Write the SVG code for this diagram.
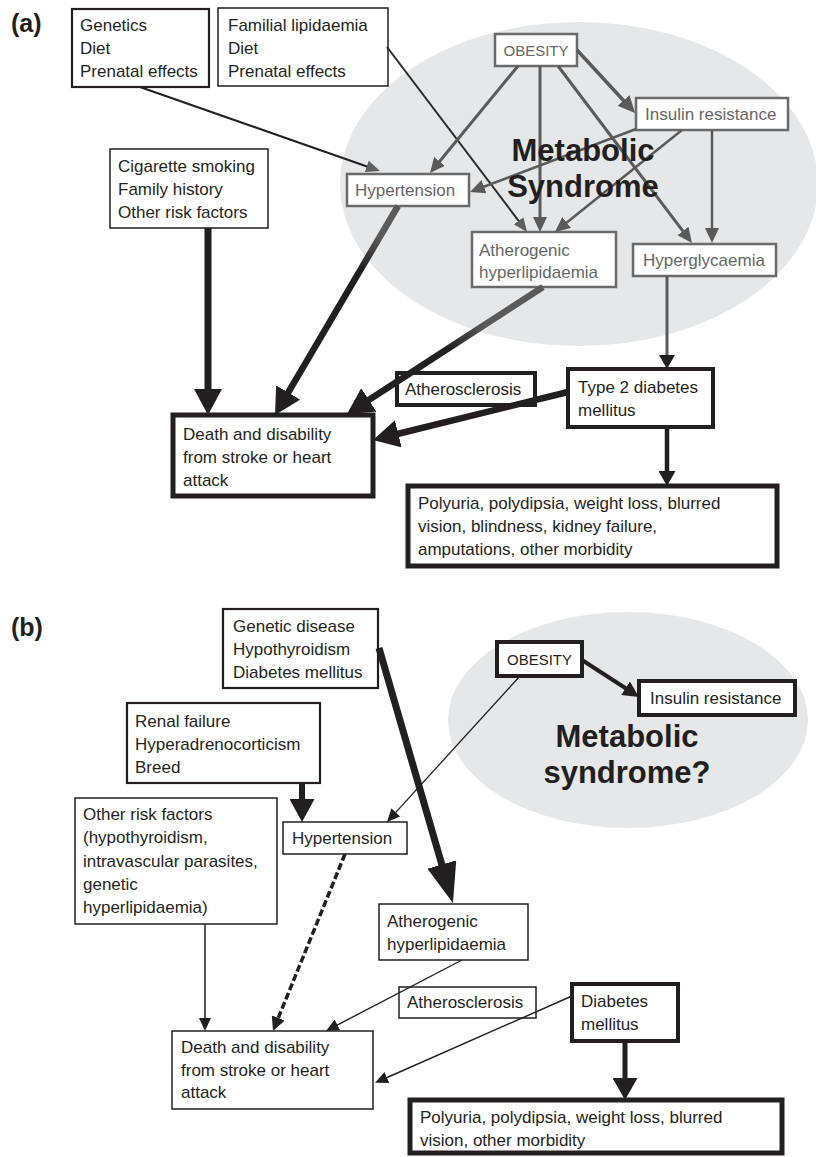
<svg xmlns="http://www.w3.org/2000/svg" width="816" height="1157" viewBox="0 0 816 1157">
<style>
  text { font-family: "Liberation Sans", Arial, sans-serif; font-size: 17px; fill: #231f20; }
  .g text, text.g { fill: #666666; }
  .lbl { font-weight: bold; font-size: 25px; }
  .big { font-weight: bold; font-size: 31px; text-anchor: middle; }
  rect { fill: #ffffff; stroke: #231f20; }
  .gb { stroke: #6a6a6a; stroke-width: 2.5; }
  .k1 { stroke-width: 1.5; }
  .k2 { stroke-width: 2.2; }
  .k4 { stroke-width: 4; }
  .k5 { stroke-width: 5; }
  .ell { fill: #e6e7e8; stroke: none; }
  line { fill: none; stroke-linecap: butt; }
</style>
<defs>
  <marker id="mBig" markerUnits="userSpaceOnUse" markerWidth="26" markerHeight="28" refX="1" refY="14" orient="auto"><path d="M0,0 L26,14 L0,28 Z" fill="#231f20"/></marker>
  <marker id="mBigB" markerUnits="userSpaceOnUse" markerWidth="40" markerHeight="30" refX="1" refY="15" orient="auto"><path d="M0,0 L40,15 L0,30 Z" fill="#231f20"/></marker>
  <marker id="mMid" markerUnits="userSpaceOnUse" markerWidth="23" markerHeight="25" refX="1" refY="12.5" orient="auto"><path d="M0,0 L23,12.5 L0,25 Z" fill="#231f20"/></marker>
  <marker id="mMid2" markerUnits="userSpaceOnUse" markerWidth="22" markerHeight="25" refX="1" refY="12.5" orient="auto"><path d="M0,0 L22,12.5 L0,25 Z" fill="#231f20"/></marker>
  <marker id="mGray" markerUnits="userSpaceOnUse" markerWidth="15" markerHeight="14" refX="1" refY="7" orient="auto"><path d="M0,0 L15,7 L0,14 Z" fill="#5a5a5a"/></marker>
  <marker id="mGray2" markerUnits="userSpaceOnUse" markerWidth="17" markerHeight="16" refX="1" refY="8" orient="auto"><path d="M0,0 L17,8 L0,16 Z" fill="#5a5a5a"/></marker>
  <marker id="mGrayS" markerUnits="userSpaceOnUse" markerWidth="14" markerHeight="12" refX="1" refY="6" orient="auto"><path d="M0,0 L14,6 L0,12 Z" fill="#5f5f5f"/></marker>
  <marker id="mMedK" markerUnits="userSpaceOnUse" markerWidth="14" markerHeight="16" refX="1" refY="8" orient="auto"><path d="M0,0 L14,8 L0,16 Z" fill="#231f20"/></marker>
  <marker id="mMedK2" markerUnits="userSpaceOnUse" markerWidth="15" markerHeight="17" refX="1" refY="8.5" orient="auto"><path d="M0,0 L15,8.5 L0,17 Z" fill="#231f20"/></marker>
  <marker id="mOb" markerUnits="userSpaceOnUse" markerWidth="16" markerHeight="16" refX="1" refY="8" orient="auto"><path d="M0,0 L16,8 L0,16 Z" fill="#231f20"/></marker>
  <marker id="mS" markerUnits="userSpaceOnUse" markerWidth="13" markerHeight="12" refX="1" refY="6" orient="auto"><path d="M0,0 L13,6 L0,12 Z" fill="#231f20"/></marker>
  <marker id="mD" markerUnits="userSpaceOnUse" markerWidth="14" markerHeight="14" refX="1" refY="7" orient="auto"><path d="M0,0 L14,7 L0,14 Z" fill="#231f20"/></marker>
  <linearGradient id="g1" gradientUnits="userSpaceOnUse" x1="398" y1="206" x2="275" y2="415">
    <stop offset="0" stop-color="#5a5a5a"/><stop offset="0.15" stop-color="#5a5a5a"/><stop offset="0.3" stop-color="#231f20"/><stop offset="1" stop-color="#231f20"/>
  </linearGradient>
  <linearGradient id="g2" gradientUnits="userSpaceOnUse" x1="543" y1="287" x2="347" y2="414">
    <stop offset="0" stop-color="#5a5a5a"/><stop offset="0.3" stop-color="#5a5a5a"/><stop offset="0.48" stop-color="#231f20"/><stop offset="1" stop-color="#231f20"/>
  </linearGradient>
</defs>
<rect x="0" y="0" width="816" height="1157" style="fill:#ffffff;stroke:none"/>

<!-- Panel labels and backgrounds -->
<text class="lbl" x="11" y="32">(a)</text>
<text class="lbl" x="11" y="636">(b)</text>
<ellipse class="ell" cx="579" cy="184" rx="239" ry="162"/>
<ellipse class="ell" cx="628" cy="720" rx="180" ry="108"/>

<!-- Panel (a) nodes -->
<g id="a-genetics"><rect class="k2" x="72" y="9" width="137" height="78"/>
  <text x="80" y="31">Genetics</text><text x="80" y="54">Diet</text><text x="80" y="77">Prenatal effects</text></g>
<g id="a-familial"><rect class="k1" x="218" y="8" width="170" height="78"/>
  <text x="228" y="31">Familial lipidaemia</text><text x="228" y="54">Diet</text><text x="228" y="77">Prenatal effects</text></g>
<g id="a-cigarette"><rect class="k1" x="110" y="149" width="158" height="79"/>
  <text x="118" y="172">Cigarette smoking</text><text x="118" y="195">Family history</text><text x="118" y="218">Other risk factors</text></g>
<g id="a-obesity" class="g"><rect class="gb" x="495" y="34" width="82" height="32"/>
  <text x="536" y="56" text-anchor="middle" style="font-size:15px">OBESITY</text></g>
<g id="a-insulin" class="g"><rect class="gb" x="636" y="98" width="152" height="32"/>
  <text x="645" y="120">Insulin resistance</text></g>
<g id="a-hypertension" class="g"><rect class="gb" x="347" y="174" width="122" height="32"/>
  <text x="355" y="196">Hypertension</text></g>
<g id="a-atherogenic" class="g"><rect class="gb" x="472" y="232" width="144" height="55"/>
  <text x="479" y="256">Atherogenic</text><text x="479" y="278">hyperlipidaemia</text></g>
<g id="a-hyperglycaemia" class="g"><rect class="gb" x="633" y="244" width="143" height="32"/>
  <text x="643" y="266">Hyperglycaemia</text></g>
<g id="a-death"><rect class="k5" x="173" y="415" width="200" height="81"/>
  <text x="183" y="440">Death and disability</text><text x="183" y="463">from stroke or heart</text><text x="183" y="486">attack</text></g>
<g id="a-atherosclerosis"><rect class="k4" x="397" y="373" width="138" height="32"/>
  <text x="405" y="395">Atherosclerosis</text></g>
<g id="a-type2"><rect class="k4" x="568" y="369" width="145" height="58"/>
  <text x="578" y="393">Type 2 diabetes</text><text x="578" y="416">mellitus</text></g>
<g id="a-polyuria"><rect class="k5" x="408" y="486" width="369" height="80"/>
  <text x="418" y="509">Polyuria, polydipsia, weight loss, blurred</text><text x="418" y="532">vision, blindness, kidney failure,</text><text x="418" y="555">amputations, other morbidity</text></g>

<!-- Panel (b) nodes -->
<g id="b-genetic"><rect class="k2" x="223" y="609" width="155" height="79"/>
  <text x="233" y="632">Genetic disease</text><text x="233" y="655">Hypothyroidism</text><text x="233" y="678">Diabetes mellitus</text></g>
<g id="b-renal"><rect class="k2" x="127" y="703" width="193" height="80"/>
  <text x="135" y="727">Renal failure</text><text x="135" y="750">Hyperadrenocorticism</text><text x="135" y="773">Breed</text></g>
<g id="b-other"><rect class="k1" x="75" y="798" width="202" height="126"/>
  <text x="83" y="820">Other risk factors</text><text x="83" y="843">(hypothyroidism,</text><text x="83" y="867">intravascular parasites,</text><text x="83" y="890">genetic</text><text x="83" y="913">hyperlipidaemia)</text></g>
<g id="b-hypertension"><rect class="k1" x="283" y="822" width="124" height="32"/>
  <text x="292" y="844">Hypertension</text></g>
<g id="b-obesity"><rect class="k4" x="497" y="642" width="85" height="34"/>
  <text x="539.5" y="665" text-anchor="middle" style="font-size:15px">OBESITY</text></g>
<g id="b-insulin"><rect class="k4" x="639" y="681" width="156" height="34"/>
  <text x="650" y="704">Insulin resistance</text></g>
<g id="b-atherogenic"><rect class="k1" x="379" y="904" width="149" height="56"/>
  <text x="387" y="927">Atherogenic</text><text x="387" y="950">hyperlipidaemia</text></g>
<g id="b-atherosclerosis"><rect class="k1" x="399" y="987" width="137" height="31"/>
  <text x="407" y="1008">Atherosclerosis</text></g>
<g id="b-diabetes"><rect class="k4" x="572" y="984" width="106" height="57"/>
  <text x="581" y="1007">Diabetes</text><text x="581" y="1030">mellitus</text></g>
<g id="b-death"><rect class="k1" x="172" y="1031" width="201" height="78"/>
  <text x="181" y="1053">Death and disability</text><text x="181" y="1076">from stroke or heart</text><text x="181" y="1098">attack</text></g>
<g id="b-polyuria"><rect class="k5" x="410" y="1100" width="372" height="53"/>
  <text x="420" y="1123">Polyuria, polydipsia, weight loss, blurred</text><text x="420" y="1146">vision, other morbidity</text></g>

<!-- Connectors -->
<g id="connectors">
  <!-- panel (a) -->
  <line x1="140" y1="87" x2="367.7" y2="166.7" stroke="#231f20" stroke-width="2" marker-end="url(#mGrayS)"/>
  <line x1="387" y1="47" x2="519.2" y2="221.6" stroke="#2a2a2a" stroke-width="2" marker-end="url(#mGrayS)"/>
  <line x1="518" y1="66" x2="438.9" y2="162.2" stroke="#5a5a5a" stroke-width="3" marker-end="url(#mGray)"/>
  <line x1="540" y1="66" x2="540" y2="218" stroke="#5a5a5a" stroke-width="3" marker-end="url(#mGray)"/>
  <line x1="558" y1="66" x2="683.5" y2="231.8" stroke="#5a5a5a" stroke-width="3" marker-end="url(#mGray)"/>
  <line x1="577" y1="50" x2="624.2" y2="101.2" stroke="#5a5a5a" stroke-width="3.5" marker-end="url(#mGray2)"/>
  <line x1="636" y1="129" x2="483.1" y2="187" stroke="#5a5a5a" stroke-width="2.5" marker-end="url(#mGray)"/>
  <line x1="682" y1="130" x2="565.9" y2="223.2" stroke="#5a5a5a" stroke-width="2.5" marker-end="url(#mGray)"/>
  <line x1="712" y1="130" x2="712" y2="229" stroke="#5a5a5a" stroke-width="2.5" marker-end="url(#mGray)"/>
  <line x1="398" y1="206" x2="287.7" y2="393.4" stroke="url(#g1)" stroke-width="6.5" marker-end="url(#mBig)"/>
  <line x1="208" y1="228" x2="208" y2="390" stroke="#231f20" stroke-width="7" marker-end="url(#mBig)"/>
  <line x1="543" y1="287" x2="368" y2="400.4" stroke="url(#g2)" stroke-width="6.5" marker-end="url(#mBig)"/>
  <line x1="568" y1="392" x2="397.3" y2="434" stroke="#231f20" stroke-width="6.5" marker-end="url(#mBig)"/>
  <line x1="667" y1="276" x2="667" y2="356" stroke="#5a5a5a" stroke-width="3" marker-end="url(#mMedK)"/>
  <line x1="667" y1="427" x2="667" y2="472" stroke="#231f20" stroke-width="4.5" marker-end="url(#mMedK2)"/>
  <!-- panel (b) -->
  <line x1="379" y1="648" x2="442.1" y2="865.5" stroke="#231f20" stroke-width="7" marker-end="url(#mBigB)"/>
  <line x1="302" y1="783" x2="302" y2="800" stroke="#231f20" stroke-width="6" marker-end="url(#mMid)"/>
  <line x1="520" y1="676" x2="395.1" y2="813.1" stroke="#231f20" stroke-width="1.3" marker-end="url(#mS)"/>
  <line x1="582" y1="660" x2="626.4" y2="688.8" stroke="#231f20" stroke-width="4" marker-end="url(#mOb)"/>
  <line x1="205" y1="924" x2="205" y2="1019" stroke="#231f20" stroke-width="1.5" marker-end="url(#mS)"/>
  <line x1="345" y1="854" x2="277.9" y2="1018.9" stroke="#231f20" stroke-width="3.5" stroke-dasharray="7,3" marker-end="url(#mD)"/>
  <line x1="462" y1="960" x2="336.6" y2="1025.4" stroke="#231f20" stroke-width="1.4" marker-end="url(#mS)"/>
  <line x1="572" y1="996" x2="386" y2="1078" stroke="#231f20" stroke-width="1.4" marker-end="url(#mS)"/>
  <line x1="625" y1="1041" x2="625" y2="1079" stroke="#231f20" stroke-width="5" marker-end="url(#mMid2)"/>
</g>

<!-- Region titles -->
<g id="titles">
  <text class="big" x="583" y="161">Metabolic</text>
  <text class="big" x="583" y="197">Syndrome</text>
  <text class="big" x="627" y="747">Metabolic</text>
  <text class="big" x="627" y="783">syndrome?</text>
</g>
</svg>
